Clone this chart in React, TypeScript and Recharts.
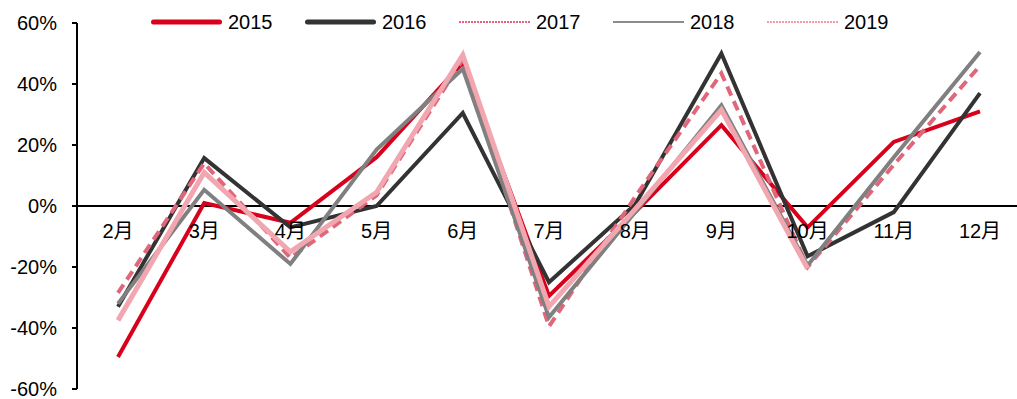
import React from 'react';
import { LineChart, Line, XAxis, YAxis, ReferenceLine } from 'recharts';

// month categories and yearly growth values (%)
const months = ['2月', '3月', '4月', '5月', '6月', '7月', '8月', '9月', '10月', '11月', '12月'];
const y2015 = [-49.5, 1, -5.5, 16, 47, -29.5, -2, 26.5, -7, 21, 31];
const y2016 = [-33, 15.7, -7, 0, 30.5, -25, 0.5, 50, -16.5, -2, 37];
const y2017 = [-28.5, 14, -17, 3.5, 48, -39.5, 3, 43.5, -20, 13.5, 46];
const y2018 = [-32, 5.3, -19, 18.5, 45, -36.5, -2, 33, -19.5, 16, 50.5];
const y2019 = [-37.5, 11, -15, 4.5, 49.5, -33, -1, 31.5, -20.5, null, null];
const yTicks = [-60, -40, -20, 0, 20, 40, 60];

const data = months.map((month, i) => ({
    month,
    y2015: y2015[i],
    y2016: y2016[i],
    y2017: y2017[i],
    y2018: y2018[i],
    y2019: y2019[i],
}));

const FONT = '"Liberation Sans", Arial, "Noto Sans CJK SC", sans-serif';
const CHART_W = 1017;
const CHART_H = 399;
const MARGIN = { top: 23, right: 0, bottom: 9, left: 0 };
const X_AXIS_H = 1;
const Y_MIN = -60;
const Y_MAX = 60;
// pixel row of the zero line, from the linear y scale
const PLOT_H = CHART_H - MARGIN.top - MARGIN.bottom - X_AXIS_H;
const ZERO_Y = MARGIN.top + PLOT_H * (Y_MAX / (Y_MAX - Y_MIN));

const series = [
    { key: 'y2015', name: '2015', color: '#D9001B', width: 4, dash: undefined },
    { key: 'y2016', name: '2016', color: '#333333', width: 4, dash: undefined },
    { key: 'y2017', name: '2017', color: '#E0667A', width: 4, dash: '10 6' },
    { key: 'y2018', name: '2018', color: '#808080', width: 4, dash: undefined },
    { key: 'y2019', name: '2019', color: '#F2A6B0', width: 5, dash: undefined },
];

const legendStyles: Record<string, { color: string; width: number; dash?: string; cap: 'round' | 'butt' }> = {
    '2015': { color: '#D9001B', width: 5, cap: 'round' },
    '2016': { color: '#333333', width: 5, cap: 'round' },
    '2017': { color: '#E8607A', width: 2, dash: '2 1', cap: 'butt' },
    '2018': { color: '#8C8C8C', width: 2, cap: 'butt' },
    '2019': { color: '#F49AA8', width: 2, dash: '2 1', cap: 'butt' },
};

const CategoryTick = (props: { x?: number; payload?: { value: string } }) => (
    <text
        x={props.x}
        y={ZERO_Y + 25}
        textAnchor="middle"
        dominantBaseline="central"
        fontSize={20}
        fontFamily={FONT}
        fill="#000"
    >
        {props.payload?.value}
    </text>
);

const LegendRow = () => (
    <div
        style={{
            position: 'absolute',
            left: 151,
            top: 10,
            display: 'flex',
            fontFamily: FONT,
            fontSize: 20,
            color: '#000',
        }}
    >
        {series.map((s) => {
            const st = legendStyles[s.name];
            return (
                <div key={s.key} style={{ width: 154, display: 'flex', alignItems: 'center', height: 24 }}>
                    <svg width={71} height={10}>
                        <line
                            x1={st.cap === 'round' ? 2.5 : 0}
                            x2={st.cap === 'round' ? 68.5 : 71}
                            y1={5}
                            y2={5}
                            stroke={st.color}
                            strokeWidth={st.width}
                            strokeDasharray={st.dash}
                            strokeLinecap={st.cap}
                        />
                    </svg>
                    <span style={{ marginLeft: 6, lineHeight: '24px' }}>{s.name}</span>
                </div>
            );
        })}
    </div>
);

export default function App() {
    return (
        <div
            style={{
                position: 'fixed',
                left: 0,
                top: 0,
                width: CHART_W,
                height: CHART_H,
                overflow: 'hidden',
                background: '#fff',
            }}
        >
            <LineChart width={CHART_W} height={CHART_H} data={data} margin={MARGIN}>
                <XAxis
                    dataKey="month"
                    height={X_AXIS_H}
                    axisLine={false}
                    tickLine={false}
                    interval={0}
                    padding={{ left: 41, right: 37 }}
                    tick={(p: any) => <CategoryTick x={p.x} payload={p.payload} />}
                />
                <YAxis
                    width={77}
                    domain={[Y_MIN, Y_MAX]}
                    ticks={yTicks}
                    interval={0}
                    tickFormatter={(v: number) => `${v}%`}
                    axisLine={{ stroke: '#000', strokeWidth: 2 }}
                    tickLine={{ stroke: '#000', strokeWidth: 2 }}
                    tickSize={5}
                    tickMargin={15}
                    tick={{ fill: '#000', fontSize: 20, fontFamily: FONT }}
                />
                <ReferenceLine y={0} stroke="#000" strokeWidth={2} />
                {series.map((s) => (
                    <Line
                        key={s.key}
                        type="linear"
                        dataKey={s.key}
                        name={s.name}
                        stroke={s.color}
                        strokeWidth={s.width}
                        strokeDasharray={s.dash}
                        dot={false}
                        activeDot={false}
                        isAnimationActive={false}
                    />
                ))}
            </LineChart>
            <LegendRow />
        </div>
    );
}
